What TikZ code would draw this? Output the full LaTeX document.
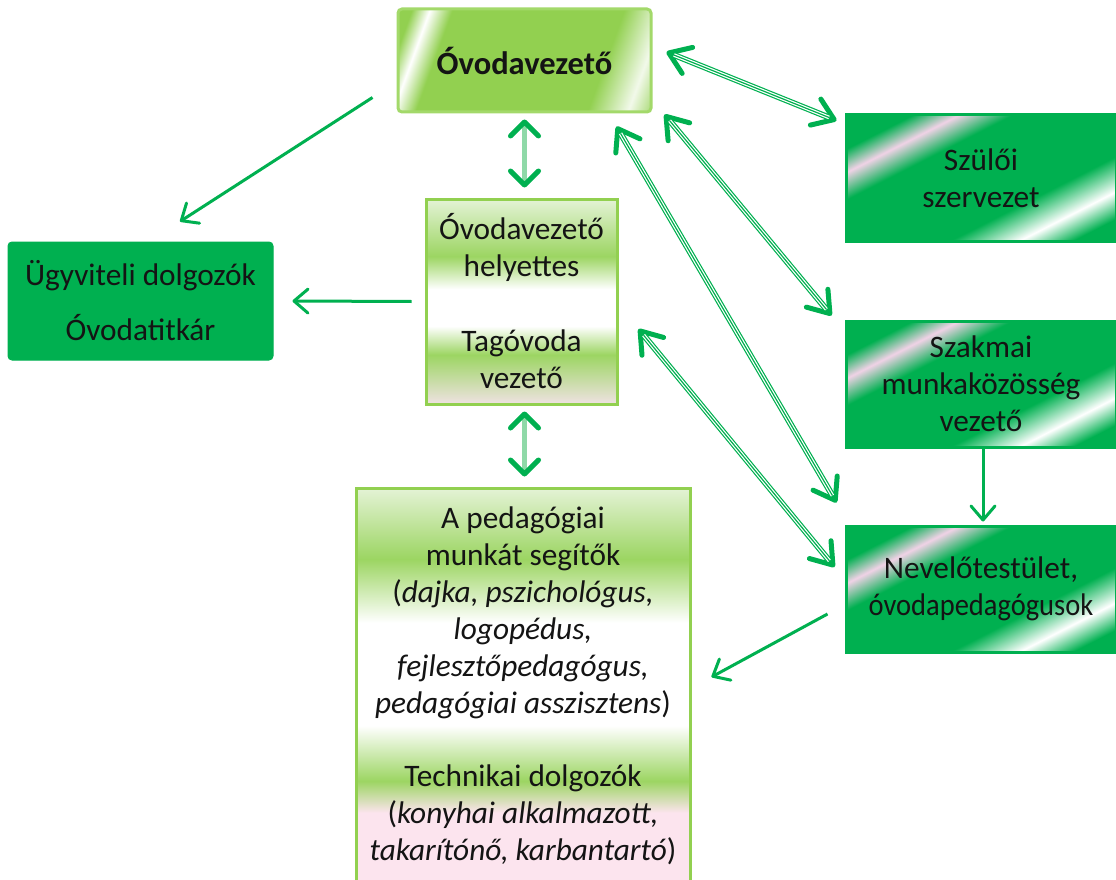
\documentclass[tikz,border=0pt]{standalone}
\usepackage{fontspec}
\usepackage{graphicx}
\setmainfont{Carlito}
\usetikzlibrary{arrows.meta,calc}
\definecolor{dg}{HTML}{00B050}
\definecolor{lg}{HTML}{92D050}
\definecolor{lgb}{HTML}{A3D96A}
\definecolor{lgs}{HTML}{9CD562}
\definecolor{pale}{HTML}{E4F3D6}
\definecolor{hpink}{HTML}{EFE2E2}
\definecolor{ppink}{HTML}{FCE4EE}
\definecolor{shpink}{HTML}{F0D2E6}
\definecolor{shG}{HTML}{F2F9EA}
\definecolor{shaft}{HTML}{8FD9A8}
\definecolor{txt}{HTML}{141414}
\pgfdeclareverticalshading{helyshade}{100bp}{color(0bp)=(hpink); color(25bp)=(hpink); color(37bp)=(lgs); color(44bp)=(white); color(53bp)=(white); color(61bp)=(lgs); color(75bp)=(pale); color(100bp)=(pale)}
\pgfdeclareverticalshading{pedshade}{100bp}{color(0bp)=(ppink); color(34bp)=(ppink); color(38bp)=(lgs); color(45bp)=(white); color(58bp)=(white); color(66bp)=(lgs); color(75bp)=(pale); color(100bp)=(pale)}
\pgfdeclarehorizontalshading{shineR}{100bp}{color(0bp)=(dg); color(25bp)=(dg); color(31bp)=(shpink); color(38bp)=(dg); color(62bp)=(dg); color(71bp)=(white); color(78bp)=(dg); color(100bp)=(dg)}
\pgfdeclarehorizontalshading{shineG}{100bp}{color(0bp)=(lg); color(21bp)=(lg); color(25bp)=(white); color(30bp)=(lg); color(68bp)=(lg); color(77bp)=(shG); color(84bp)=(lg); color(100bp)=(lg)}
\tikzset{
  box/.style={inner sep=0pt, align=center, text=txt},
  topbox/.style={box, shade, shading=shineG, shading angle=-20, draw=lgb, line width=3pt, rounded corners=4pt},
  darkbox/.style={box, fill=dg, draw=dg, line width=1pt, rounded corners=4pt},
  shinebox/.style={box, shade, shading=shineR, shading angle=-63, draw=dg, line width=3pt},
  helybox/.style={box, shade, shading=helyshade, draw=lg, line width=3pt},
  pedbox/.style={box, shade, shading=pedshade, draw=lg, line width=3pt},
  single/.style={draw=dg, line width=3pt, -{Straight Barb[length=14pt,width=24pt,line width=3pt,round]}},
  vtip/.tip={Straight Barb[color=dg,length=14pt,width=28pt,line width=5pt,round]},
  vert/.style={draw=shaft, line width=5pt, vtip-vtip},
  ttip/.tip={Straight Barb[length=20pt,width=28pt,line width=5pt,round]},
  tri/.style={draw=dg, line width=6pt, ttip-ttip,
    postaction={draw=white, line width=3.6pt, -, shorten <=8pt, shorten >=8pt},
    postaction={draw=dg, line width=1.2pt, -, shorten <=8pt, shorten >=8pt}}
}
\begin{document}
\begin{tikzpicture}[x=1pt,y=-1pt,font=\fontsize{31.3}{37}\selectfont]
\useasboundingbox (0,0) rectangle (1116,880);
% nodes
\node[topbox, minimum width=253pt, minimum height=103pt, font=\fontsize{32.5}{37}\selectfont\bfseries] (ov) at (524.5,60.5) {Óvodavezető};
\node[helybox, minimum width=191pt, minimum height=205pt] (hely) at (521.5,301.5) {Óvodavezető\\ helyettes\\[38pt] Tagóvoda\\ vezető};
\node[darkbox, minimum width=265pt, minimum height=118pt] (ugy) at (140.5,301) {Ügyviteli dolgozók\\[18pt] Óvodatitkár};
\node[shinebox, minimum width=270pt, minimum height=126pt] (szul) at (981,178) {Szülői\\ szervezet};
\node[shinebox, minimum width=270pt, minimum height=126pt] (szak) at (981,384) {Szakmai\\ munkaközösség\\ vezető};
\node[shinebox, minimum width=270pt, minimum height=126pt] (nev) at (981,589) {Nevelőtestület,\\ \scalebox{0.91}[1]{óvodapedagógusok}};
\node[pedbox, minimum width=334pt, minimum height=396pt] (ped) at (523,686) {A pedagógiai\\ munkát segítők\\ (\textit{dajka, pszichológus,}\\ \textit{logopédus,}\\ \textit{fejlesztőpedagógus,}\\ \textit{pedagógiai asszisztens})\\[36pt] Technikai dolgozók\\ (\textit{konyhai alkalmazott,}\\ \textit{takarítónő, karbantartó})};
% connectors
\draw[single] ([shift={(-24,-16)}]ov.south west) -- ([shift={(39.5,-20)}]ugy.north);
\draw[single] ([shift={(-13,0)}]hely.west) -- ([shift={(19,0)}]ugy.east);
\draw[vert] ([shift={(0,6)}]ov.south) -- ([shift={(0,-10)}]ov.south |- hely.north);
\draw[vert] ([shift={(0,6)}]ov.south |- hely.south) -- ([shift={(0,-10)}]ov.south |- ped.north);
\draw[tri] ([shift={(14,-8.5)}]ov.east) -- ([shift={(-8,7)}]szul.north west);
\draw[tri] ([shift={(12,1)}]ov.south east) -- ([shift={(-13,-4)}]szak.north west);
\draw[tri] ([shift={(-36,13)}]ov.south east) -- ([shift={(-8,-22)}]nev.north west);
\draw[tri] ([shift={(20,27.5)}]hely.east) -- ([shift={(-10,-22)}]nev.west);
\draw[single] ([shift={(2,0)}]szak.south) -- ([shift={(2,-3)}]nev.north);
\draw[single] ([shift={(-17,25)}]nev.west) -- ([shift={(20,-9)}]ped.east);
\end{tikzpicture}
\end{document}
